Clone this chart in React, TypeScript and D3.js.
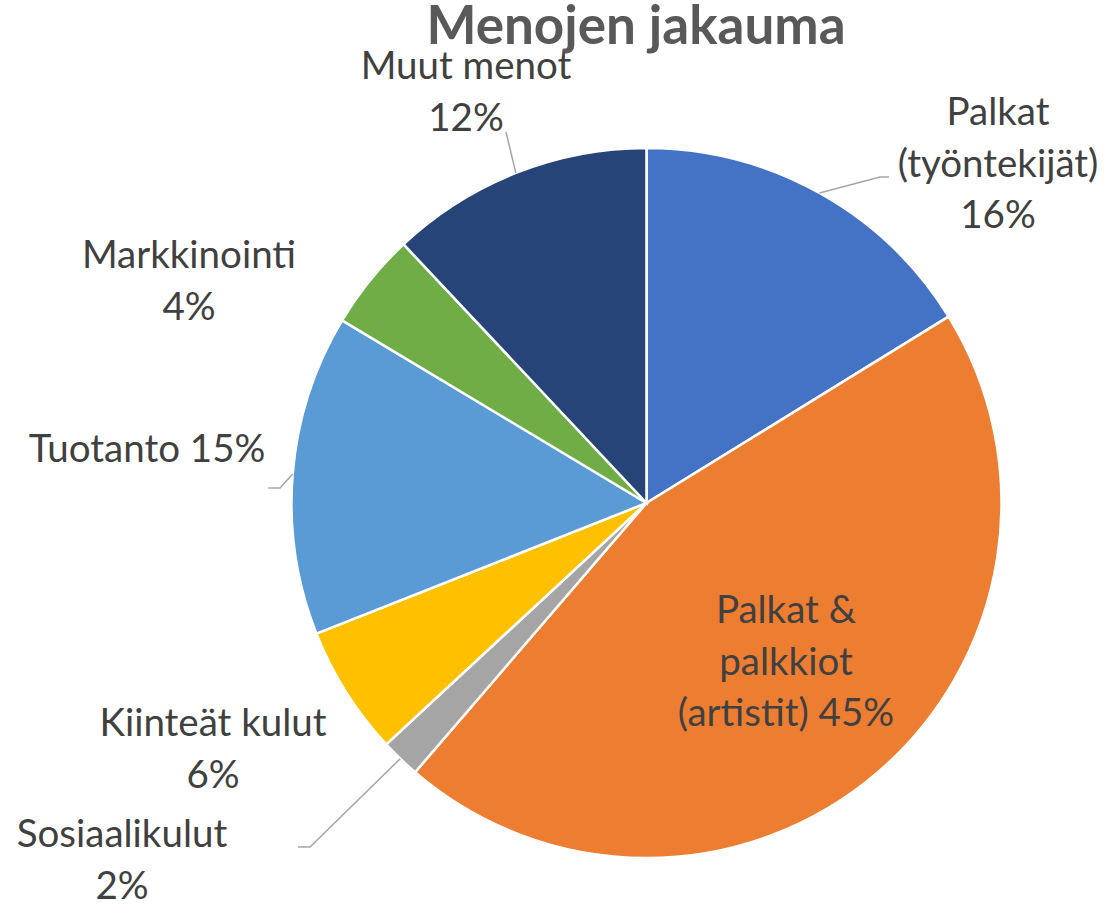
import { useMemo } from "react";
import * as d3 from "d3";

const WIDTH = 1109;
const HEIGHT = 904;

// data (share of costs, %)
const categories = [
  "Palkat (työntekijät)",
  "Palkat & palkkiot (artistit)",
  "Sosiaalikulut",
  "Kiinteät kulut",
  "Tuotanto",
  "Markkinointi",
  "Muut menot",
];
const values = [16.2, 45.1, 1.8, 5.9, 14.6, 4.4, 12.0];
const colors = ["#4472C4", "#ED7D31", "#A5A5A5", "#FFC000", "#5B9BD5", "#70AD47", "#264478"];

// label text lines, the percent is appended from the data
const labelLines = [
  ["Palkat", "(työntekijät)", "%"],
  ["Palkat &", "palkkiot", "(artistit) %"],
  ["Sosiaalikulut", "%"],
  ["Kiinteät kulut", "%"],
  ["Tuotanto %"],
  ["Markkinointi", "%"],
  ["Muut menot", "%"],
];

// label placement (center x, first baseline y) and leader line elbows
const labelPos: [number, number][] = [
  [998, 125],
  [786, 623],
  [122, 847],
  [213, 736],
  [147, 462],
  [189, 268],
  [466, 79],
];
const leaders: ([number, number][] | null)[] = [
  [[880, 177], [889, 177]],
  null,
  [[310, 847], [298, 847]],
  null,
  [[280, 488], [268, 488]],
  null,
  [[506, 132]],
];

const CX = 646.5;
const CY = 503;
const R = 355;
const LINE_H = 51.5;

export default function App() {
  const total = d3.sum(values);
  const arcs = useMemo(
    () =>
      d3
        .pie<number>()
        .sort(null)
        .value((d) => d)(values),
    []
  );
  const arcGen = d3.arc<d3.PieArcDatum<number>>().innerRadius(0).outerRadius(R);
  const lineGen = d3.line();

  return (
    <svg width={WIDTH} height={HEIGHT} style={{ position: "absolute", left: 0, top: 0 }}>
      <rect width={WIDTH} height={HEIGHT} fill="#fff" />
      <text
        x={636}
        y={44}
        textAnchor="middle"
        fontFamily="Lato, 'Noto Sans', sans-serif"
        fontWeight="bold"
        fontSize={53}
        fill="#595959"
      >
        Menojen jakauma
      </text>
      <g transform={`translate(${CX},${CY})`}>
        {arcs.map((a, i) => (
          <path key={i} d={arcGen(a) || ""} fill={colors[i]} stroke="#fff" strokeWidth={2.5} />
        ))}
      </g>
      {arcs.map((a, i) => {
        const pts = leaders[i];
        if (!pts) return null;
        const mid = (a.startAngle + a.endAngle) / 2;
        const start: [number, number] = [CX + Math.sin(mid) * R, CY - Math.cos(mid) * R];
        return (
          <path
            key={"l" + i}
            d={lineGen([start, ...pts]) || ""}
            fill="none"
            stroke="#A6A6A6"
            strokeWidth={1.5}
          />
        );
      })}
      {labelLines.map((lines, i) => {
        const pct = Math.round((values[i] / total) * 100) + "%";
        return (
          <text
            key={"t" + i}
            textAnchor="middle"
            fontFamily="Lato, 'Noto Sans', sans-serif"
            fontSize={38.5}
            fill="#404040"
          >
            {lines.map((ln, j) => (
              <tspan key={j} x={labelPos[i][0]} y={labelPos[i][1] + j * LINE_H}>
                {ln.replace("%", pct)}
              </tspan>
            ))}
          </text>
        );
      })}
    </svg>
  );
}
